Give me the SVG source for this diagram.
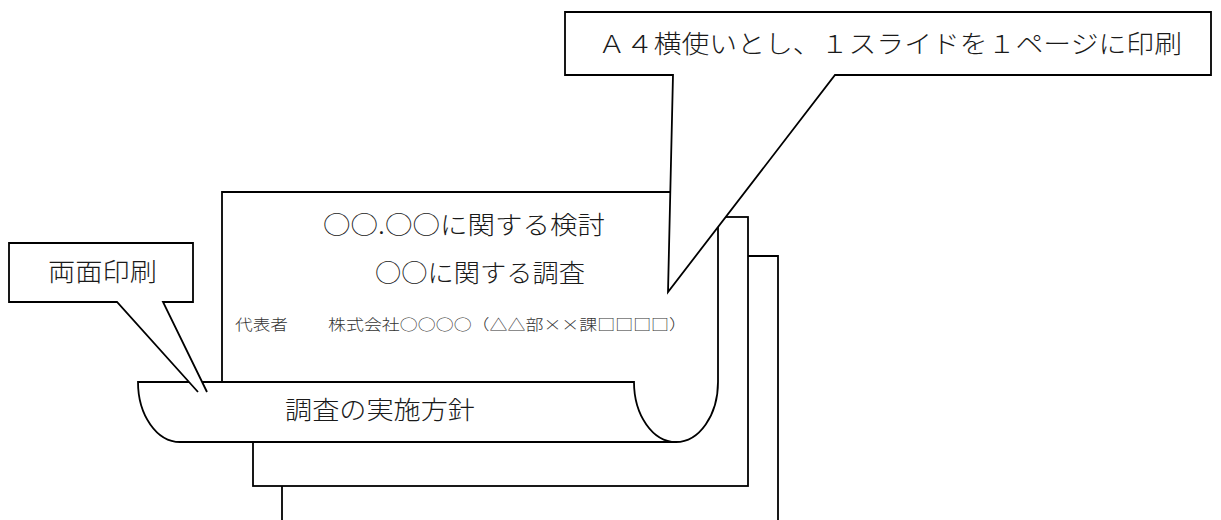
<svg xmlns="http://www.w3.org/2000/svg" width="1221" height="520" viewBox="0 0 1221 520">
<style>
.ln{fill:#fff;stroke:#000;stroke-width:1.8;stroke-linejoin:miter}
.open{fill:none;stroke:#000;stroke-width:1.8}
.nofill{fill:#fff;stroke:none}
.t{font-family:"Noto Sans CJK JP","Liberation Serif",serif;fill:#1a1a1a;font-size:25px;font-weight:300}
.s{font-family:"Noto Sans CJK JP","Liberation Sans",sans-serif;fill:#333;font-size:15px;font-weight:300}
</style>
<rect width="1221" height="520" fill="#fff"/>
<g id="page3">
<path class="ln" d="M282,530 V256 H778 V530"/>
</g>
<g id="page2">
<rect class="ln" x="253" y="217" width="495" height="269"/>
</g>
<g id="page1">
<path class="ln" d="M138,382 A42,60 0 0 0 180,442 H676 A42,60 0 0 0 718,382 V192 H222 V382 Z"/>
<path class="open" d="M222,382 H634 A42,60 0 0 0 676,442"/>
<text class="t" x="323" y="234" textLength="282" lengthAdjust="spacingAndGlyphs">○○.○○に関する検討</text>
<text class="t" x="375" y="282" textLength="210" lengthAdjust="spacingAndGlyphs">○○に関する調査</text>
<text class="s" x="235" y="330" textLength="53" lengthAdjust="spacingAndGlyphs">代表者</text>
<text class="s" x="328" y="330" textLength="359" lengthAdjust="spacingAndGlyphs">株式会社○○○○（△△部××課□□□□）</text>
<text class="t" x="285" y="419" textLength="190" lengthAdjust="spacingAndGlyphs">調査の実施方針</text>
</g>
<g id="callout-duplex">
<polygon class="nofill" points="9,243 193,243 193,302 163,302 207,392 198,392 117,302 9,302"/>
<path class="open" d="M198,392 L117,302 H9 V243 H193 V302 H163 L207,392"/>
<text class="t" x="48" y="281" textLength="109" lengthAdjust="spacingAndGlyphs">両面印刷</text>
</g>
<g id="callout-a4">
<polygon class="ln" points="565,12 1211,12 1211,75 835,75 668,292 673,75 565,75"/>
<text class="t" x="598" y="53" textLength="584" lengthAdjust="spacingAndGlyphs">Ａ４横使いとし、１スライドを１ページに印刷</text>
</g>
<g id="connectors"></g>
</svg>
